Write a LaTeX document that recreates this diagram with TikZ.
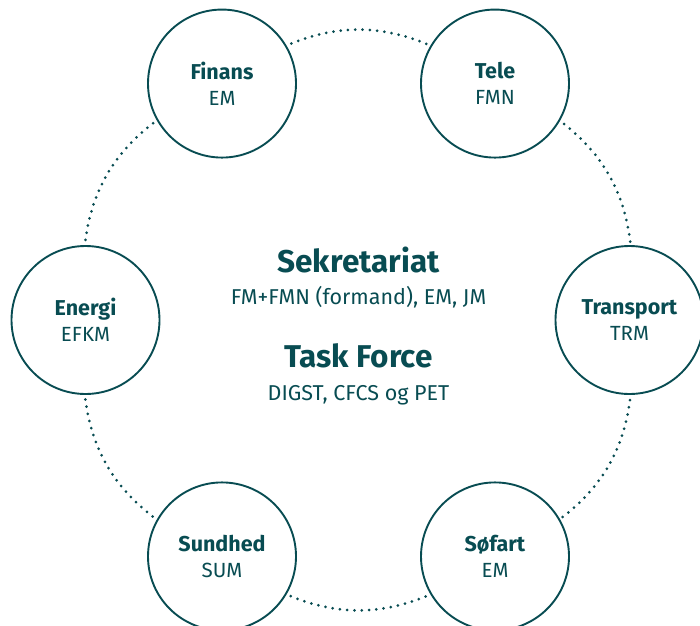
\documentclass[tikz,border=0pt]{standalone}
\usepackage{fontspec}
\setmainfont{Fira Sans}
\usetikzlibrary{backgrounds,calc}

\definecolor{darkteal}{RGB}{8,76,82}

\begin{document}
\begin{tikzpicture}[x=1pt,y=1pt,
	ministry/.style={circle, draw=darkteal, line width=1.9pt, fill=white, minimum size=148pt,
		inner sep=0pt, align=center, text=darkteal, font=\fontsize{20.5}{26}\selectfont},
	ring/.style={draw=darkteal, line width=3pt, line cap=round, dash pattern=on 0pt off 7.3pt,
		bend left=36, looseness=1.15},
	head/.style={text=darkteal, font=\bfseries\fontsize{31.5}{36}\selectfont, anchor=base},
	sub/.style={text=darkteal, font=\fontsize{21.5}{26}\selectfont, anchor=base}]

	\useasboundingbox (0,0) rectangle (700,625);
	\coordinate (mid) at (358.5,305);

	% the six sectors
	\node[ministry] (finans)    at ($(mid)+(120:273)$) {\textbf{\fontsize{21.5}{26}\selectfont Finans}\\EM};
	\node[ministry] (tele)      at ($(mid)+(60:273)$)  {\textbf{\fontsize{21.5}{26}\selectfont Tele}\\FMN};
	\node[ministry] (transport) at ($(mid)+(0:271)$)   {\textbf{\fontsize{21.5}{26}\selectfont Transport}\\TRM};
	\node[ministry] (sofart)    at ($(mid)+(-60:273)$) {\textbf{\fontsize{21.5}{26}\selectfont Søfart}\\EM};
	\node[ministry] (sundhed)   at ($(mid)+(-120:273)$) {\textbf{\fontsize{21.5}{26}\selectfont Sundhed}\\SUM};
	\node[ministry] (energi)    at ($(mid)+(180:273)$) {\textbf{\fontsize{21.5}{26}\selectfont Energi}\\EFKM};

	% dotted ring
	\begin{scope}[on background layer]
		\draw[ring] (finans.center) to (tele.center);
		\draw[ring] (tele.center) to (transport.center);
		\draw[ring] (transport.center) to (sofart.center);
		\draw[ring] (sofart.center) to (sundhed.center);
		\draw[ring] (sundhed.center) to (energi.center);
		\draw[ring] (energi.center) to (finans.center);
	\end{scope}

	% centre texts
	\node[head] (sekr)  at ($(mid)+(0,48)$)  {Sekretariat};
	\node[sub]  (sekrm) at ($(mid)+(0,16)$)  {FM+FMN (formand), EM, JM};
	\node[head] (task)  at ($(mid)+(0,-47)$) {Task Force};
	\node[sub]  (taskm) at ($(mid)+(0,-80)$) {DIGST, CFCS og PET};

\end{tikzpicture}
\end{document}
